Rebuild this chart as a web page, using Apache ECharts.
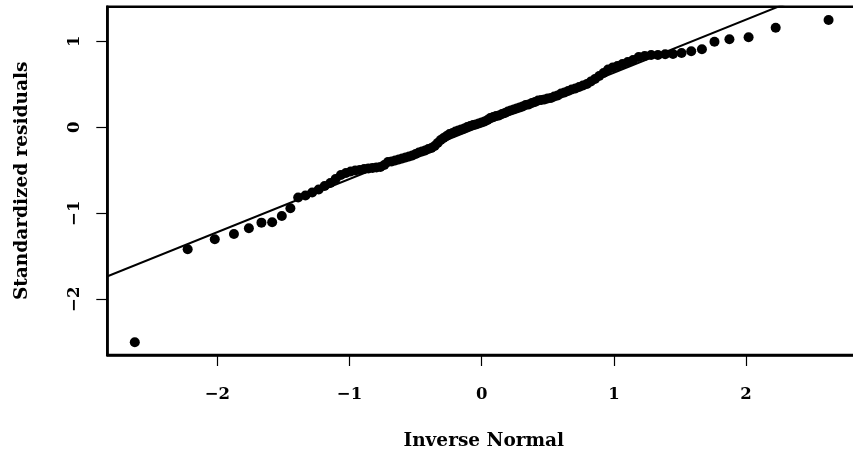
<!DOCTYPE html>
<html>
<head>
<meta charset="utf-8">
<script src="https://cdn.jsdelivr.net/npm/echarts@6/dist/echarts.min.js"></script>
<style>html,body{margin:0;padding:0;background:#fff;}#c{width:853px;height:453px;}</style>
</head>
<body>
<div id="c"></div>
<script>
// Theoretical normal quantiles (x) and sorted standardized residuals (y)
var qx = [-2.624,-2.224,-2.019,-1.874,-1.761,-1.666,-1.585,-1.512,-1.447,-1.388,
-1.333,-1.282,-1.233,-1.188,-1.145,-1.105,-1.065,-1.027,-0.991,-0.956,
-0.922,-0.889,-0.857,-0.826,-0.796,-0.766,-0.737,-0.709,-0.681,-0.654,
-0.627,-0.601,-0.575,-0.549,-0.524,-0.499,-0.475,-0.451,-0.427,-0.403,
-0.380,-0.356,-0.333,-0.310,-0.288,-0.265,-0.243,-0.220,-0.198,-0.176,
-0.154,-0.131,-0.109,-0.087,-0.065,-0.044,-0.022,0,
0.022,0.044,0.065,0.087,0.109,0.131,0.154,0.176,0.198,0.220,
0.243,0.265,0.288,0.310,0.333,0.356,0.380,0.403,0.427,0.451,
0.475,0.499,0.524,0.549,0.575,0.601,0.627,0.654,0.681,0.709,
0.737,0.766,0.796,0.826,0.857,0.889,0.922,0.956,0.991,1.027,
1.065,1.105,1.145,1.188,1.233,1.282,1.333,1.388,1.447,1.512,
1.585,1.666,1.761,1.874,2.019,2.224,2.624];
var ry = [-2.500,-1.419,-1.302,-1.241,-1.174,-1.109,-1.105,-1.031,-0.942,-0.816,
-0.793,-0.758,-0.723,-0.683,-0.648,-0.601,-0.555,-0.531,-0.514,-0.502,
-0.497,-0.485,-0.479,-0.473,-0.467,-0.462,-0.438,-0.403,-0.398,-0.386,
-0.374,-0.363,-0.351,-0.340,-0.328,-0.310,-0.293,-0.281,-0.270,-0.252,
-0.241,-0.217,-0.183,-0.148,-0.124,-0.101,-0.078,-0.066,-0.049,-0.037,
-0.026,-0.014,0.003,0.015,0.027,0.033,0.044,0.056,
0.067,0.085,0.108,0.120,0.131,0.137,0.155,0.166,0.184,0.195,
0.207,0.219,0.230,0.242,0.259,0.265,0.283,0.294,0.312,0.317,
0.323,0.335,0.341,0.358,0.370,0.393,0.405,0.422,0.440,0.451,
0.469,0.486,0.503,0.533,0.562,0.597,0.631,0.672,0.695,0.713,
0.736,0.759,0.783,0.817,0.829,0.840,0.841,0.849,0.852,0.864,
0.885,0.907,0.995,1.023,1.047,1.158,1.248];
// Reference line endpoints
var lineX = [-3, 3];
var lineY = [-1.838, 1.870];
var xTicks = [-2, -1, 0, 1, 2];
var yTicks = [-2, -1, 0, 1];

var pts = qx.map(function(v, i){ return [v, ry[i]]; });
var ln = lineX.map(function(v, i){ return [v, lineY[i]]; });

function fmt(v){ return v < 0 ? '\u2212' + Math.abs(v) : String(v); }
var FONT = 'DejaVu Serif';

var chart = echarts.init(document.getElementById('c'), null, {renderer:'canvas'});
chart.setOption({
  animation: false,
  backgroundColor: '#fff',
  grid: {left: 107.3, top: 6.7, width: 753, height: 348.3, show: true,
         outerBoundsMode: 'none', containLabel: false,
         borderColor: '#000', borderWidth: 2.5, backgroundColor: 'transparent'},
  xAxis: {
    type: 'value', min: -2.832, max: 2.864,
    name: 'Inverse Normal', nameLocation: 'middle', nameGap: 77,
    nameTextStyle: {fontFamily: FONT, fontWeight: 'bold', fontSize: 18.5, color: '#000'},
    axisLine: {show: true, onZero: false, lineStyle: {color: '#000', width: 2.5}},
    axisTick: {show: true, inside: false, length: 11, customValues: xTicks, lineStyle: {color: '#000', width: 1.2}},
    axisLabel: {customValues: xTicks, margin: 31, fontFamily: FONT, fontWeight: 'bold', fontSize: 16.5, color: '#000', formatter: fmt},
    splitLine: {show: false}
  },
  yAxis: {
    type: 'value', min: -2.648, max: 1.402,
    name: 'Standardized residuals', nameLocation: 'middle', nameGap: 76,
    nameTextStyle: {fontFamily: FONT, fontWeight: 'bold', fontSize: 18.5, color: '#000'},
    axisLine: {show: true, onZero: false, lineStyle: {color: '#000', width: 2.5}},
    axisTick: {show: true, inside: false, length: 11, customValues: yTicks, lineStyle: {color: '#000', width: 1.2}},
    axisLabel: {customValues: yTicks, rotate: 90, margin: 24, fontFamily: FONT, fontWeight: 'bold', fontSize: 16.5, color: '#000', formatter: fmt},
    splitLine: {show: false}
  },
  series: [
    {type: 'scatter', data: pts, symbol: 'circle', symbolSize: 10,
     itemStyle: {color: '#000', opacity: 1}, z: 3},
    {type: 'line', data: ln, showSymbol: false, symbol: 'none', clip: true,
     lineStyle: {color: '#000', width: 2}, z: 2}
  ]
});
</script>
</body>
</html>
